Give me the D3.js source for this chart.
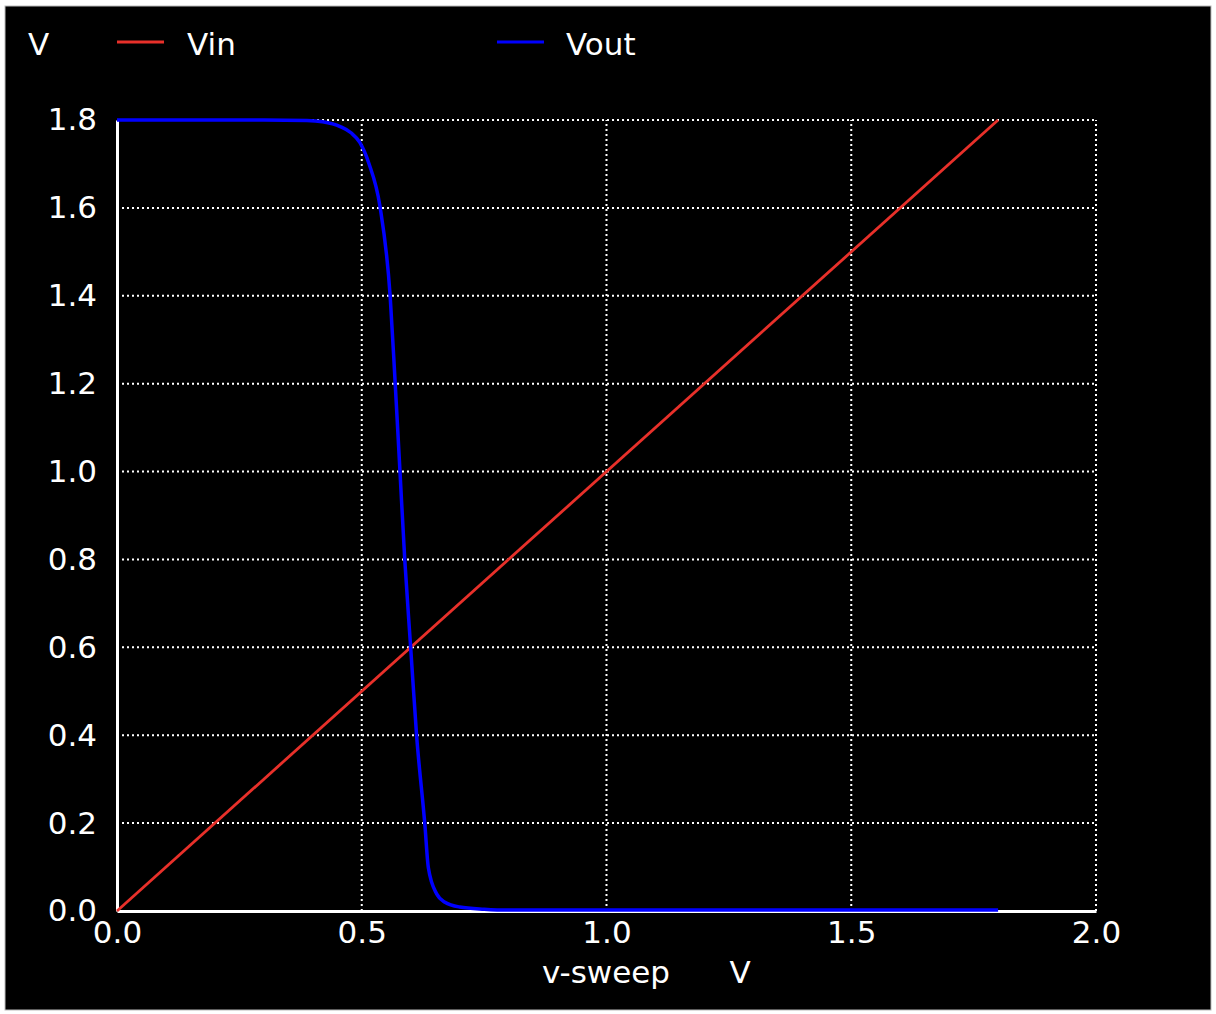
<!DOCTYPE html>
<html><head><meta charset="utf-8">
<script src="https://cdn.jsdelivr.net/npm/d3@7"></script>
<style>body{margin:0;background:#fff}svg{display:block}</style>
</head><body>
<svg id="c" width="1216" height="1014"></svg>
<script>
const vinX = [0, 1.8];
const vinY = [0, 1.8];
const voutX = [0, 0.30, 0.388, 0.42, 0.456, 0.478, 0.496, 0.515, 0.537, 0.558, 0.568, 0.578, 0.588, 0.600, 0.612, 0.629, 0.636, 0.653, 0.67, 0.70, 0.75, 0.80, 1.8];
const voutY = [1.8, 1.8, 1.799, 1.796, 1.785, 1.771, 1.749, 1.70, 1.605, 1.40, 1.207, 1.002, 0.797, 0.599, 0.40, 0.196, 0.099, 0.039, 0.02, 0.009, 0.004, 0.002, 0.002];
const xTicks = [0, 0.5, 1.0, 1.5, 2.0];
const yTicks = [0, 0.2, 0.4, 0.6, 0.8, 1.0, 1.2, 1.4, 1.6, 1.8];

const svg = d3.select("#c");
const F = "DejaVu Sans", FS = 31;
svg.append("rect").attr("x",0).attr("y",0).attr("width",1216).attr("height",1014).attr("fill","#fff");
svg.append("rect").attr("x",5).attr("y",6).attr("width",1206).attr("height",1004).attr("fill","#000").attr("stroke","#bbb");

const x = d3.scaleLinear().domain([0,2]).range([117,1096]);
const y = d3.scaleLinear().domain([0,1.8]).range([911,120]);

svg.append("g").selectAll("line").data(yTicks.filter(d=>d>0)).join("line")
  .attr("x1",x(0)).attr("x2",x(2)).attr("y1",d=>y(d)).attr("y2",d=>y(d))
  .attr("stroke","#fff").attr("stroke-width",2).attr("stroke-dasharray","2,3");
svg.append("g").selectAll("line").data(xTicks.filter(d=>d>0)).join("line")
  .attr("y1",y(0)).attr("y2",y(1.8)).attr("x1",d=>x(d)).attr("x2",d=>x(d))
  .attr("stroke","#fff").attr("stroke-width",2).attr("stroke-dasharray","2,3");

svg.append("g").attr("transform",`translate(0,${y(0)})`)
  .call(d3.axisBottom(x).tickValues(xTicks).tickFormat(d3.format(".1f")).tickSize(0).tickPadding(10))
  .call(g=>{g.select(".domain").attr("stroke","#fff").attr("stroke-width",3);
    g.selectAll("text").attr("fill","#fff").attr("font-family",F).attr("font-size",FS);});
svg.append("g").attr("transform",`translate(${x(0)},0)`)
  .call(d3.axisLeft(y).tickValues(yTicks).tickFormat(d3.format(".1f")).tickSize(0).tickPadding(20))
  .call(g=>{g.select(".domain").attr("stroke","#fff").attr("stroke-width",3);
    g.selectAll("text").attr("fill","#fff").attr("font-family",F).attr("font-size",FS);});

const line = d3.line().x(d=>x(d[0])).y(d=>y(d[1]));
svg.append("path").datum(vinX.map((v,i)=>[v,vinY[i]])).attr("d",line)
  .attr("fill","none").attr("stroke","#e8302a").attr("stroke-width",2.8);
svg.append("path").datum(voutX.map((v,i)=>[v,voutY[i]])).attr("d",d3.line().x(d=>x(d[0])).y(d=>y(d[1])).curve(d3.curveMonotoneX))
  .attr("fill","none").attr("stroke","#0000ff").attr("stroke-width",3.5);

const t = (s,xx,yy,anchor)=>svg.append("text").attr("x",xx).attr("y",yy).attr("fill","#fff")
  .attr("font-family",F).attr("font-size",FS).attr("text-anchor",anchor||"start").text(s);
t("V",28,55);
svg.append("line").attr("x1",117).attr("x2",164).attr("y1",42).attr("y2",42).attr("stroke","#e8302a").attr("stroke-width",3);
t("Vin",187,55);
svg.append("line").attr("x1",497).attr("x2",544).attr("y1",42).attr("y2",42).attr("stroke","#0000ff").attr("stroke-width",3);
t("Vout",566,55);
t("v-sweep",606,983,"middle");
t("V",740,983,"middle");
</script>
</body></html>
